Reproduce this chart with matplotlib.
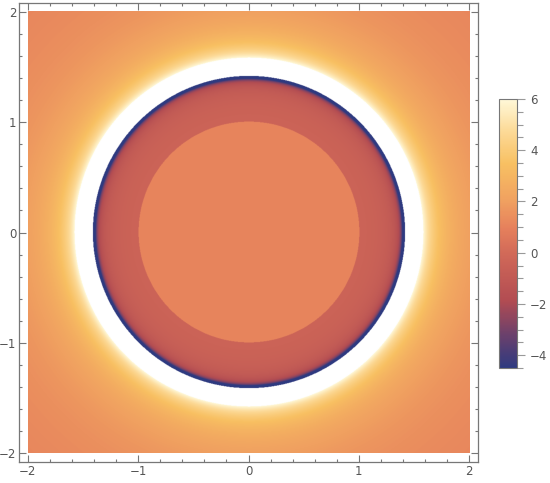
import numpy as np
import matplotlib
matplotlib.use("Agg")
import matplotlib.pyplot as plt
from matplotlib.colors import LinearSegmentedColormap
from matplotlib.ticker import MultipleLocator

# field levels (radial regions)
r_inner = 1.0            # edge of the flat inner disc
r_sing = np.sqrt(2.0)    # singular circle
inner_level = 1.1        # value inside r < 1
ring_level = -0.05       # ring 1 < r < sqrt(2): ring_level - ring_k/(2 - r^2)
ring_k = 0.3
outer_level = 0.75       # outside: outer_level + outer_k/(r^2 - 2)
outer_k = 2.6

vmin, vmax = -4.5, 6.0
cbar_ticks = [-4, -2, 0, 2, 4, 6]
axis_ticks = [-2, -1, 0, 1, 2]

# colour stops (Mathematica style density gradient)
stops = [0.0, 0.12, 0.25, 0.42, 0.52, 0.62, 0.76, 0.88, 1.0]
colors = ["#2e3a80", "#6a406c", "#b24c52", "#d06858", "#e6805c",
          "#f0a060", "#f8c062", "#fcd996", "#fff8d8"]

cmap = LinearSegmentedColormap.from_list("m10", list(zip(stops, colors)))
cmap.set_over("white")
cmap.set_under(colors[0])

n = 1000
xs = np.linspace(-2, 2, n)
X, Y = np.meshgrid(xs, xs)
R2 = X**2 + Y**2
with np.errstate(divide="ignore", invalid="ignore"):
    Z = np.where(R2 < r_inner**2, inner_level,
                 np.where(R2 < r_sing**2, ring_level - ring_k / (2 - R2),
                          outer_level + outer_k / (R2 - 2)))

fig = plt.figure(figsize=(5.5, 4.83), dpi=100)
ax = fig.add_axes([19/550, 21/483, 459/550, 459/483])
im = ax.imshow(Z, extent=[-2, 2, -2, 2], origin="lower", cmap=cmap,
               vmin=vmin, vmax=vmax, interpolation="antialiased", aspect="auto")
ax.set_xlim(-2.08, 2.08)
ax.set_ylim(-2.08, 2.08)

grey = "#777777"
ax.set_xticks(axis_ticks)
ax.set_yticks(axis_ticks)
ax.set_xticklabels([str(t).replace("-", "\u2212") for t in axis_ticks])
ax.set_yticklabels([str(t).replace("-", "\u2212") for t in axis_ticks])
ax.xaxis.set_minor_locator(MultipleLocator(0.2))
ax.yaxis.set_minor_locator(MultipleLocator(0.2))
ax.tick_params(which="both", direction="in", top=True, right=True,
               color=grey, labelcolor="#555555", labelsize=8.5, width=0.8)
ax.tick_params(which="major", length=5, pad=2)
ax.tick_params(which="minor", length=2.5)
for s in ax.spines.values():
    s.set_color(grey)
    s.set_linewidth(0.9)

cax = fig.add_axes([499/550, (483-368)/483, 18/550, 269/483])
cb = fig.colorbar(im, cax=cax, ticks=cbar_ticks)
cb.outline.set_edgecolor(grey)
cb.outline.set_linewidth(0.8)
cax.set_yticklabels([str(t).replace("-", "\u2212") for t in cbar_ticks])
cax.yaxis.set_minor_locator(MultipleLocator(0.5))
cax.tick_params(which="both", color="#999999", labelcolor="#555555",
                labelsize=8.5, width=0.8)
cax.tick_params(which="major", length=6)
cax.tick_params(which="minor", length=4)

fig.savefig("out.png", dpi=100)
